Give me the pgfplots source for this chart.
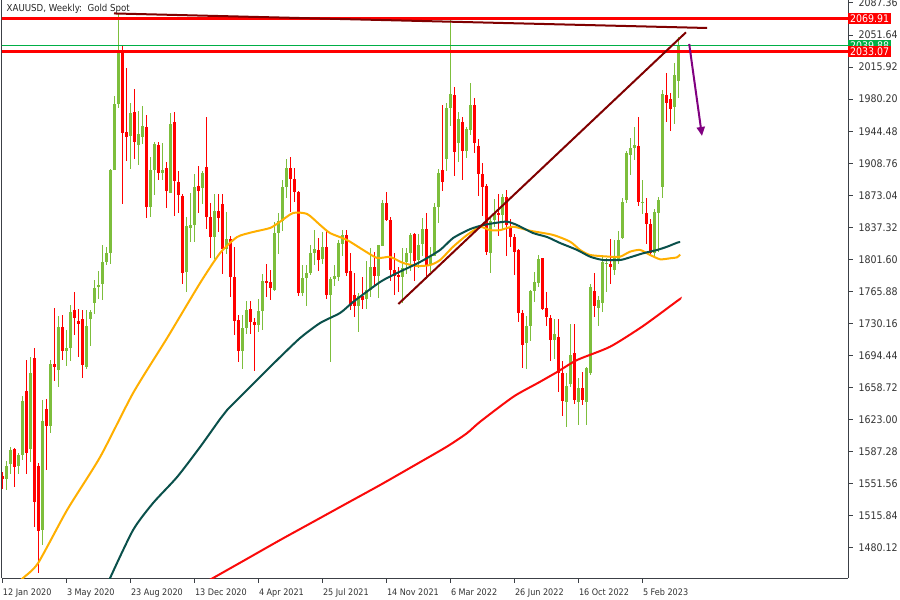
\documentclass[border=0pt]{standalone}
\usepackage{pgfplots}
\pgfplotsset{compat=1.18}
\usepackage{pgfplotstable}
\usepackage{fontspec}
\setmainfont{DejaVu Sans Condensed}
\usetikzlibrary{arrows.meta}
\definecolor{cup}{RGB}{125,190,60}
\definecolor{cdn}{RGB}{255,0,0}
\definecolor{maorange}{RGB}{255,175,0}
\definecolor{mateal}{RGB}{10,80,75}
\definecolor{mared}{RGB}{250,10,10}
\definecolor{tmaroon}{RGB}{128,0,0}
\definecolor{arrowpurple}{RGB}{128,0,128}
\definecolor{axisgray}{RGB}{60,64,70}
\definecolor{curgreen}{RGB}{0,175,70}
\definecolor{txtgray}{RGB}{50,50,50}

\pgfplotstableread{
i o h l c
0 1560 1565 1546 1557
1 1557 1577 1545 1572
2 1574 1593 1563 1589
3 1590 1592 1548 1570
4 1571 1586 1563 1584
5 1584 1649 1578 1644
6 1655 1690 1563 1586
7 1590 1693 1576 1675
8 1692 1703 1504 1531
9 1571 1575 1452 1499
10 1500 1645 1483 1622
11 1635 1646 1567 1616
12 1616 1690 1608 1685
13 1685 1748 1666 1682
14 1678 1739 1660 1726
15 1726 1740 1690 1700
16 1700 1723 1683 1703
17 1703 1751 1689 1743
18 1745 1765 1717 1736
19 1733 1746 1693 1730
20 1735 1745 1670 1684
21 1682 1745 1680 1727
22 1735 1745 1705 1743
23 1753 1779 1741 1770
24 1771 1789 1757 1773
25 1774 1818 1757 1799
26 1799 1815 1795 1809
27 1809 1902 1797 1901
28 1901 1984 1901 1975
29 1975 2075 1970 2033
30 2033 2040 1863 1943
31 1944 2015 1911 1938
32 1939 1976 1902 1965
33 1966 1992 1914 1932
34 1929 1967 1907 1941
35 1938 1973 1930 1950
36 1949 1963 1848 1860
37 1860 1916 1849 1901
38 1901 1933 1873 1930
39 1929 1933 1890 1898
40 1898 1931 1890 1901
41 1903 1910 1859 1878
42 1876 1965 1876 1952
43 1955 1966 1850 1889
44 1888 1900 1853 1873
45 1872 1875 1774 1787
46 1788 1849 1765 1839
47 1837 1876 1821 1840
48 1840 1897 1821 1882
49 1883 1906 1853 1878
50 1881 1900 1863 1898
51 1905 1960 1836 1849
52 1849 1864 1803 1827
53 1827 1875 1802 1856
54 1856 1875 1832 1848
55 1863 1875 1785 1813
56 1813 1855 1808 1824
57 1824 1828 1760 1782
58 1782 1816 1717 1733
59 1734 1740 1687 1700
60 1700 1740 1680 1725
61 1725 1755 1718 1745
62 1746 1755 1718 1732
63 1732 1736 1677 1729
64 1729 1758 1721 1744
65 1744 1785 1723 1778
66 1778 1797 1760 1776
67 1777 1790 1756 1770
68 1768 1843 1767 1831
69 1831 1853 1808 1845
70 1845 1890 1833 1882
71 1882 1913 1870 1903
72 1903 1916 1855 1891
73 1891 1903 1866 1877
74 1877 1878 1761 1764
75 1764 1795 1761 1781
76 1781 1795 1750 1787
77 1787 1818 1784 1809
78 1809 1834 1795 1813
79 1812 1825 1789 1801
80 1802 1832 1796 1815
81 1815 1833 1757 1762
82 1762 1782 1687 1780
83 1780 1795 1772 1783
84 1782 1823 1778 1820
85 1819 1834 1805 1829
86 1829 1834 1783 1787
87 1789 1809 1745 1750
88 1762 1787 1737 1750
89 1750 1764 1721 1761
90 1761 1782 1746 1757
91 1757 1800 1746 1768
92 1768 1814 1760 1793
93 1793 1810 1772 1783
94 1783 1818 1759 1818
95 1817 1868 1817 1865
96 1865 1877 1844 1846
97 1846 1849 1778 1790
98 1790 1809 1762 1783
99 1784 1793 1765 1782
100 1782 1814 1753 1792
101 1799 1814 1785 1809
102 1809 1831 1789 1829
103 1830 1831 1778 1800
104 1801 1830 1792 1818
105 1819 1848 1805 1836
106 1836 1853 1780 1795
107 1795 1815 1788 1806
108 1806 1865 1806 1860
109 1860 1902 1842 1898
110 1901 1974 1878 1888
111 1914 1976 1900 1970
112 1970 2070 1950 1986
113 1985 1994 1895 1921
114 1931 1966 1910 1958
115 1955 1960 1890 1923
116 1922 1949 1915 1947
117 1946 1998 1940 1974
118 1974 1982 1920 1931
119 1928 1936 1872 1897
120 1897 1909 1850 1882
121 1883 1886 1807 1810
122 1809 1850 1786 1845
123 1846 1869 1838 1853
124 1853 1874 1828 1851
125 1851 1875 1836 1871
126 1871 1879 1805 1840
127 1838 1847 1816 1827
128 1827 1830 1784 1810
129 1812 1813 1732 1742
130 1742 1745 1681 1706
131 1708 1739 1680 1727
132 1727 1768 1711 1766
133 1766 1788 1754 1777
134 1775 1807 1771 1802
135 1803 1803 1745 1746
136 1747 1765 1727 1738
137 1736 1740 1688 1712
138 1712 1735 1691 1718
139 1715 1735 1654 1675
140 1675 1688 1627 1644
141 1643 1675 1615 1661
142 1663 1730 1659 1695
143 1697 1730 1641 1645
144 1643 1670 1617 1658
145 1658 1676 1640 1645
146 1643 1682 1617 1681
147 1675 1774 1673 1771
148 1766 1787 1737 1750
149 1748 1761 1727 1756
150 1753 1804 1743 1799
151 1797 1803 1765 1798
152 1797 1824 1774 1793
153 1790 1823 1784 1803
154 1801 1833 1797 1823
155 1825 1870 1824 1866
156 1868 1922 1865 1920
157 1918 1937 1896 1926
158 1926 1949 1912 1929
159 1928 1960 1861 1866
160 1865 1890 1852 1866
161 1853 1870 1819 1841
162 1841 1847 1808 1809
163 1809 1858 1804 1855
164 1853 1871 1810 1868
165 1882 1990 1870 1986
166 1985 2009 1955 1976
167 1980 1987 1945 1969
168 1972 2020 1953 2007
169 2000 2050 1981 2040
}\candles

\pgfplotsset{
  wick/.style={draw=none, mark=none, forget plot,
    /pgfplots/error bars/y dir=both, /pgfplots/error bars/y explicit,
    /pgfplots/error bars/error mark=none,
    /pgfplots/error bars/error bar style={draw=#1, line width=1pt}},
  body/.style={draw=none, mark=none, forget plot,
    /pgfplots/error bars/y dir=both, /pgfplots/error bars/y explicit,
    /pgfplots/error bars/error mark=none,
    /pgfplots/error bars/error bar style={draw=#1, line width=3pt}},
}

\begin{document}
\begin{tikzpicture}[x=1pt,y=1pt]
\useasboundingbox (0,0) rectangle (900,600);
\begin{axis}[
  at={(2pt,22pt)}, anchor=south west,
  scale only axis, width=846pt, height=578pt,
  xmin=-0.2, xmax=211.3, ymin=1446.69, ymax=2090.70,
  clip mode=individual,
  axis x line*=bottom, axis y line*=box,
  axis line style={line width=1pt, axisgray},
  tick align=outside, major tick length=4.5pt,
  tick style={line width=1pt, axisgray},
  xtick={0,16,32,48,64,80,96,112,128,144,160},
  xticklabels={12 Jan 2020,3 May 2020,23 Aug 2020,13 Dec 2020,4 Apr 2021,25 Jul 2021,14 Nov 2021,6 Mar 2022,26 Jun 2022,16 Oct 2022,5 Feb 2023},
  xticklabel style={anchor=north west, inner sep=0pt, yshift=-6pt, font=\fontsize{9}{10}\selectfont, text=txtgray},
  ytick pos=right, yticklabel pos=right,
  ytick={1480.12,1515.84,1551.56,1587.28,1623.00,1658.72,1694.44,1730.16,1765.88,1801.60,1837.32,1873.04,1908.76,1944.48,1980.20,2015.92,2051.64,2087.36},
  yticklabels={1480.12,1515.84,1551.56,1587.28,1623.00,1658.72,1694.44,1730.16,1765.88,1801.60,1837.32,1873.04,1908.76,1944.48,1980.20,2015.92,2051.64,2087.36},
  yticklabel style={anchor=west, inner sep=0pt, xshift=6pt, font=\fontsize{10.5}{11}\selectfont, text=txtgray},
]
% bull candles
\addplot[restrict expr to domain={\thisrow{c}-\thisrow{o}}{0:1000}, wick=cup]
  table[x=i, y expr={(\thisrow{h}+\thisrow{l})/2}, y error expr={(\thisrow{h}-\thisrow{l})/2}] {\candles};
\addplot[restrict expr to domain={\thisrow{c}-\thisrow{o}}{0:1000}, body=cup]
  table[x=i, y expr={(\thisrow{o}+\thisrow{c})/2}, y error expr={(\thisrow{c}-\thisrow{o})/2}] {\candles};
% bear candles
\addplot[restrict expr to domain={\thisrow{c}-\thisrow{o}}{-1000:-0.001}, wick=cdn]
  table[x=i, y expr={(\thisrow{h}+\thisrow{l})/2}, y error expr={(\thisrow{h}-\thisrow{l})/2}] {\candles};
\addplot[restrict expr to domain={\thisrow{c}-\thisrow{o}}{-1000:-0.001}, body=cdn]
  table[x=i, y expr={(\thisrow{o}+\thisrow{c})/2}, y error expr={(\thisrow{o}-\thisrow{c})/2}] {\candles};

% moving averages
\addplot[maorange, line width=2pt, mark=none, smooth, tension=0.4] coordinates {
(3.8,1441) (5.08,1446.7) (8.83,1463.4) (16.08,1522.5) (24.33,1581.5) (32.58,1652.8)
(41.08,1714.1) (49.33,1775.4) (54.33,1808.8) (58.58,1826.6) (62.58,1832.2) (66.83,1836.7)
(69.33,1843.7) (72.58,1853.4) (76.08,1852.3) (79.33,1840.0) (81.83,1831.0) (86.08,1823.2)
(90.08,1812.2) (93.58,1803.3) (96.83,1804.4) (100.08,1797.7) (103.58,1794.3) (106.83,1795.4)
(109.33,1801.0) (112.58,1815.8) (116.08,1828.9) (119.33,1837.8) (121.83,1834.3) (124.33,1834.3)
(127.58,1838.1) (131.83,1833.6) (137.58,1828.9) (141.83,1821.4) (144.33,1812.2) (146.83,1806.6)
(151.83,1804.7) (154.33,1804.7) (156.83,1810.3) (159.33,1812.2) (161.83,1806.6) (164.33,1801.8)
(166.83,1802.9) (168.58,1804.0) (169.33,1807.1)};
\addplot[mateal, line width=2pt, mark=none, smooth, tension=0.4] coordinates {
(25.8,1433.3) (26.83,1446.7) (32.58,1500.2) (37.58,1530.3) (43.58,1559.2) (49.33,1592.7)
(54.33,1623.9) (56.08,1633.9) (62.58,1662.9) (68.58,1689.6) (74.33,1714.1) (79.33,1730.8)
(84.33,1742.0) (87.58,1754.2) (94.33,1776.5) (98.58,1786.5) (104.33,1798.8) (109.33,1812.2)
(112.58,1825.5) (116.83,1835.4) (120.08,1839.9) (123.58,1842.6) (126.08,1843.7) (128.58,1839.9)
(132.58,1831.0) (136.08,1826.6) (139.33,1819.9) (143.58,1812.2) (146.83,1804.7) (150.08,1801.0)
(154.33,1801.0) (156.83,1804.0) (160.08,1808.5) (163.58,1812.2) (166.08,1815.8) (168.58,1820.3)
(169.33,1821.1)};
\addplot[mared, line width=2pt, mark=none, smooth, tension=0.4] coordinates {
(50.0,1440.2) (52.58,1446.7) (60.0,1465.4) (69.33,1489.0) (77.65,1509.4)
(86.0,1529.9) (94.33,1550.3) (102.65,1571.5) (111.0,1593.0) (116.0,1607.9) (119.33,1620.8)
(127.65,1648.7) (133.9,1664.3) (138.58,1676.2) (143.58,1689.6) (151.83,1704.4)
(160.08,1727.5) (168.58,1755.3) (169.33,1757.5)};

% horizontal levels
\addplot[cdn, line width=3pt, mark=none] coordinates {(-1,2069.91) (212,2069.91)};
\addplot[cdn, line width=3pt, mark=none] coordinates {(-1,2033.07) (212,2033.07)};
\addplot[curgreen, line width=1pt, mark=none] coordinates {(-1,2039.88) (212,2039.88)};

% trend lines
\addplot[tmaroon, line width=2pt, mark=none] coordinates {(27.8,2075.7) (176.1,2059.5)};
\addplot[tmaroon, line width=2pt, mark=none] coordinates {(98.9,1752.0) (170.8,2054.7)};

% arrow
\addplot[arrowpurple, line width=2pt, mark=none, -{Triangle[width=8pt,length=9pt]}] coordinates {(171.6,2041.7) (174.8,1939.2)};

% price labels
\node[anchor=west, fill=curgreen, text=white, inner xsep=2pt, inner ysep=1.5pt, font=\fontsize{10.5}{11}\selectfont] at (axis cs:211.3,2039.88) {2039.88};
\node[anchor=west, fill=cdn, text=white, inner xsep=2pt, inner ysep=1.5pt, font=\fontsize{10.5}{11}\selectfont] at (axis cs:211.3,2033.07) {2033.07};
\node[anchor=west, fill=cdn, text=white, inner xsep=2pt, inner ysep=1.5pt, font=\fontsize{10.5}{11}\selectfont] at (axis cs:211.3,2069.91) {2069.91};
\end{axis}
\node[anchor=north west, inner sep=0pt, font=\fontsize{9.6}{11}\selectfont, text=black!85] at (6.5,596) {XAUUSD, Weekly:\ \ Gold Spot};
\end{tikzpicture}
\end{document}
